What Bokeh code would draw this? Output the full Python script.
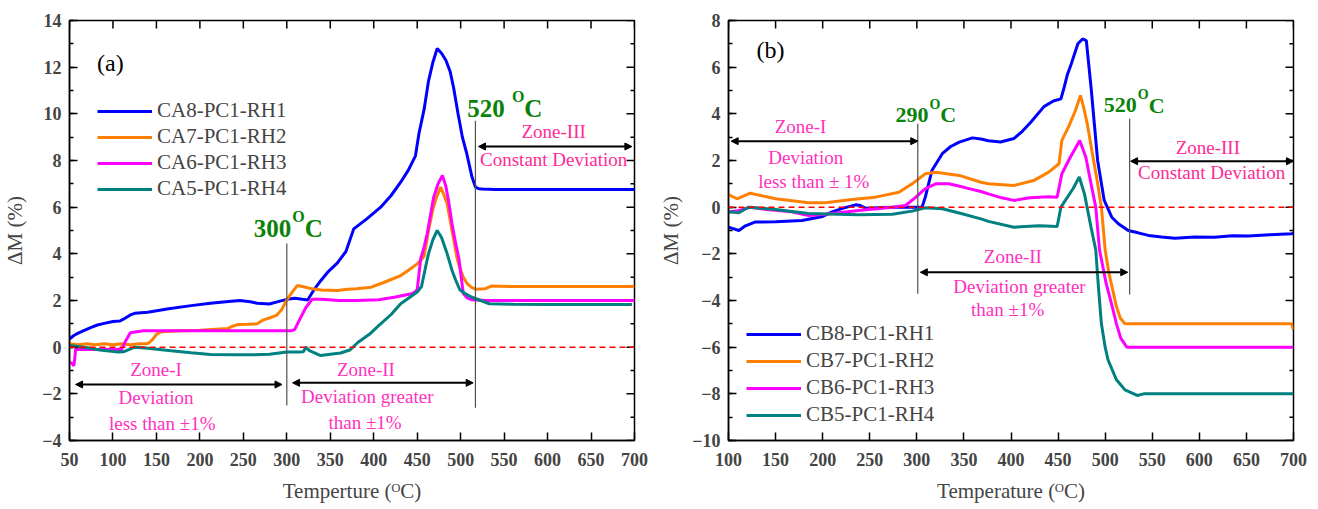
import math
from bokeh.plotting import figure
from bokeh.models import (Range1d, SingleIntervalTicker, Legend, LegendItem,
                          Span, Label, Arrow, NormalHead)
from bokeh.layouts import row
from bokeh.embed import file_html
from bokeh.resources import INLINE

SERIF = "Liberation Serif"

# ---------------- Panel (a) data ----------------
ca8_x = [50, 55, 60, 67, 75, 82, 90, 100, 108, 112, 120, 125, 140, 164, 190, 212, 230, 246, 258, 266,
         280, 290, 300, 309, 318, 324, 332, 339, 348, 358, 368, 377, 392, 408, 420, 431, 440, 448, 452,
         458, 463, 468, 473, 478, 483, 488, 492, 497, 502, 507, 513, 517, 521, 525, 540, 600, 650, 700]
ca8_y = [0.35, 0.5, 0.6, 0.72, 0.85, 0.95, 1.02, 1.1, 1.12, 1.2, 1.38, 1.45, 1.5, 1.65, 1.78, 1.88, 1.95,
         2.0, 1.95, 1.88, 1.85, 1.95, 2.05, 2.1, 2.05, 2.02, 2.5, 2.85, 3.25, 3.6, 4.1, 5.07, 5.5, 6.0,
         6.5, 7.07, 7.6, 8.2, 9.15, 10.2, 11.4, 12.2, 12.8, 12.6, 12.3, 11.8, 11.1, 10.0, 9.0, 8.3, 7.3,
         6.86, 6.79, 6.78, 6.76, 6.76, 6.76, 6.76]

ca7_x = [50, 60, 70, 80, 90, 100, 110, 120, 130, 140, 145, 150, 155, 160, 180, 200, 232, 238, 244, 255,
         266, 270, 273, 280, 288, 294, 300, 306, 312, 318, 329, 340, 358, 370, 380, 397, 410, 420, 431,
         440, 450, 455, 458, 463, 468, 472, 477, 481, 484.5, 490, 496, 499, 503, 508, 513, 518, 528, 535,
         560, 600, 650, 700]
ca7_y = [0.15, 0.1, 0.15, 0.1, 0.15, 0.1, 0.15, 0.1, 0.15, 0.15, 0.3, 0.55, 0.65, 0.67, 0.7, 0.73, 0.8,
         0.9, 0.97, 0.98, 1.0, 1.1, 1.17, 1.25, 1.36, 1.6, 2.03, 2.35, 2.64, 2.6, 2.5, 2.45, 2.43, 2.48,
         2.5, 2.57, 2.75, 2.9, 3.07, 3.3, 3.57, 3.75, 3.9, 5.0, 5.9, 6.4, 6.86, 6.5, 6.15, 5.0, 3.79, 3.4,
         3.0, 2.7, 2.55, 2.48, 2.5, 2.62, 2.6, 2.6, 2.6, 2.6]

ca6_x = [50, 53, 55, 56, 57, 70, 90, 110, 115, 120, 135, 160, 200, 250, 305, 309, 315, 322, 329, 340,
         360, 380, 406, 425, 445, 450, 454, 458, 461.5, 465, 469, 474, 479, 483, 486, 490, 494, 498, 503,
         508, 513, 530, 600, 650, 700]
ca6_y = [-0.64, -0.7, -0.8, -0.5, -0.1, -0.1, -0.1, -0.1, 0.3, 0.62, 0.7, 0.7, 0.7, 0.7, 0.7, 0.75, 1.2,
         1.7, 2.05, 2.05, 2.0, 2.0, 2.03, 2.15, 2.3, 2.45, 3.79, 4.3, 4.86, 5.6, 6.43, 7.0, 7.36, 6.9,
         6.29, 5.3, 4.5, 3.79, 2.3, 2.1, 2.03, 2.0, 2.0, 2.0, 2.0]

ca5_x = [50, 67, 85, 106, 112, 125, 140, 164, 190, 212, 240, 261, 280, 300, 315, 319, 322, 326, 339,
         350, 362, 373, 382, 395, 406, 420, 431, 442, 450, 455, 460, 463, 468, 473, 478, 484.5, 490, 494,
         499, 505, 513, 523, 533, 560, 600, 650, 697]
ca5_y = [0.07, 0.0, -0.12, -0.21, -0.2, 0.0, -0.05, -0.14, -0.24, -0.31, -0.33, -0.33, -0.3, -0.21,
         -0.21, -0.2, 0.0, -0.15, -0.36, -0.3, -0.25, -0.11, 0.21, 0.55, 0.93, 1.4, 1.86, 2.15, 2.36, 2.6,
         3.5, 4.0, 4.6, 5.0, 4.7, 4.0, 3.3, 2.9, 2.46, 2.3, 2.14, 2.0, 1.86, 1.84, 1.83, 1.83, 1.83]

# ---------------- Panel (b) data ----------------
cb8_x = [100, 105, 111, 118, 128, 150, 178, 200, 210, 221, 235, 240, 246, 274, 305.6, 309, 316, 327,
         336, 345, 359, 368, 376, 389, 403, 412, 421, 435, 445, 453, 456.5, 460, 464, 471, 476, 480, 485,
         492, 499, 507, 514, 524.5, 535, 546, 560, 574, 595, 616, 635, 652, 675, 698, 700]
cb8_y = [-0.86, -0.92, -1.0, -0.8, -0.64, -0.62, -0.57, -0.4, -0.2, -0.05, 0.1, 0.07, -0.05, 0.0, 0.0,
         0.43, 1.57, 2.29, 2.6, 2.79, 2.97, 2.92, 2.85, 2.79, 2.94, 3.25, 3.64, 4.31, 4.55, 4.64, 5.14,
         5.7, 6.14, 7.0, 7.21, 7.14, 5.14, 2.0, 0.29, -0.43, -0.71, -1.0, -1.1, -1.21, -1.28, -1.33, -1.28,
         -1.29, -1.22, -1.24, -1.18, -1.14, -1.12]

cb7_x = [100, 109, 123, 150, 185, 203, 231, 256, 281, 295, 309, 320, 345, 368, 376, 403, 424, 440, 451,
         454, 461, 468, 473.8, 477, 481, 486, 491.5, 496, 500, 504, 508, 512, 516, 521, 560, 600, 650,
         698, 700]
cb7_y = [0.54, 0.36, 0.6, 0.36, 0.19, 0.19, 0.33, 0.43, 0.64, 1.0, 1.43, 1.5, 1.36, 1.07, 1.0, 0.93, 1.14,
         1.5, 1.86, 2.86, 3.43, 4.1, 4.79, 4.3, 3.57, 2.4, 1.14, 0.0, -1.83, -2.83, -3.54, -4.26, -4.75,
         -5.0, -5.0, -5.0, -5.0, -5.0, -5.25]

cb6_x = [100, 110, 124, 140, 167, 185, 203, 238, 274, 288, 299, 309, 320, 334, 350, 368, 376, 390, 403,
         420, 440, 449, 454, 463, 473, 479.5, 485, 490, 494, 501, 507.5, 512, 516.5, 523, 560, 600, 650,
         700]
cb6_y = [-0.21, -0.15, 0.0, -0.1, -0.2, -0.36, -0.3, -0.14, 0.0, 0.07, 0.43, 0.79, 1.0, 1.0, 0.85, 0.67,
         0.57, 0.4, 0.29, 0.4, 0.45, 0.43, 1.43, 2.14, 2.86, 2.14, 1.0, 0.0, -1.83, -3.26, -4.26, -5.0,
         -5.61, -6.0, -6.0, -6.0, -6.0, -6.0]

cb5_x = [100, 111, 121, 150, 185, 238, 274, 295, 309, 327, 345, 368, 376, 403, 430, 449, 453, 460, 466,
         472.5, 478, 485, 490, 493, 496, 500, 503, 512, 521, 534, 541, 600, 650, 700]
cb5_y = [-0.2, -0.24, 0.0, -0.1, -0.27, -0.32, -0.3, -0.17, -0.03, -0.07, -0.25, -0.5, -0.61, -0.86, -0.8,
         -0.83, 0.0, 0.43, 0.8, 1.29, 0.57, -0.86, -1.83, -3.5, -5.0, -6.0, -6.54, -7.4, -7.83, -8.07,
         -8.0, -8.0, -8.0, -8.0]

labels_a = ["CA8-PC1-RH1", "CA7-PC1-RH2", "CA6-PC1-RH3", "CA5-PC1-RH4"]
labels_b = ["CB8-PC1-RH1", "CB7-PC1-RH2", "CB6-PC1-RH3", "CB5-PC1-RH4"]
colors = ["#0000FF", "#FF8000", "#FF00FF", "#008080"]

# axis ranges and tick steps
xrange_a, yrange_a = (50, 700), (-4, 14)
xrange_b, yrange_b = (100, 700), (-10, 8)
x_step, y_step = 50, 2

# annotations: vertical boundary lines (x, y0, y1)
vlines_a = [(300, -2.5, 4.44), (517, -2.6, 9.7)]
vlines_b = [(301, -3.71, 3.57), (526, -3.74, 3.79)]
# double arrows (x0, x1, y)
arrows_a = [(57, 294.5, -1.6), (306.6, 514.4, -1.53), (520.5, 697, 8.6)]
arrows_b = [(102.8, 301, 2.83), (303.7, 524, -2.79), (527, 700, 1.97)]
# texts (text, x, y, color)
PINK1 = "#FF2FC0"
PINK2 = "#FF2A95"
texts_a = [("Zone-I", 149.5, -0.96, PINK1), ("Deviation", 149.5, -2.14, PINK1),
           ("less than \u00b11%", 156.7, -3.26, PINK1),
           ("Zone-II", 391, -0.96, PINK1), ("Deviation greater", 392.6, -2.10, PINK1),
           ("than \u00b11%", 390, -3.21, PINK1),
           ("Zone-III", 607, 9.26, PINK2), ("Constant Deviation", 607, 8.05, PINK2)]
texts_b = [("Zone-I", 176.5, 3.46, PINK1), ("Deviation", 182, 2.14, PINK1),
           ("less than \u00b1 1%", 190.6, 1.11, PINK1),
           ("Zone-II", 402, -2.11, PINK1), ("Deviation greater", 409, -3.4, PINK1),
           ("than \u00b11%", 396.5, -4.4, PINK1),
           ("Zone-III", 609, 2.54, PINK2), ("Constant Deviation", 613, 1.47, PINK2)]
GREEN = "#0A820A"
# temperature marks: (number, gap before superscript, x of left edge, baseline y)
temps_a = [("300", "", 262.0, 4.79), ("520", " ", 507.5, 9.93)]
temps_b = [("290", "", 277.3, 3.67), ("520", "", 498.5, 4.07)]
panel_a = ("(a)", 97, 12.16)
panel_b = ("(b)", 144.6, 6.72)


def make_fig(xr, yr, xlab, ylab, bl, br, ylab_standoff):
    p = figure(frame_width=565, frame_height=420, x_range=Range1d(*xr), y_range=Range1d(*yr),
               output_backend="svg", toolbar_location=None, min_border_left=bl, min_border_right=br,
               min_border_top=20, min_border_bottom=67, x_axis_label=xlab, y_axis_label=ylab)
    p.grid.visible = False
    p.outline_line_color = "black"
    p.outline_line_width = 1.5
    p.xaxis.ticker = SingleIntervalTicker(interval=x_step, num_minor_ticks=0)
    p.yaxis.ticker = SingleIntervalTicker(interval=y_step, num_minor_ticks=2)
    for ax in p.axis:
        ax.axis_line_width = 1.5
        ax.major_tick_in = 8
        ax.major_tick_out = 0
        ax.minor_tick_in = 4
        ax.minor_tick_out = 0
        ax.major_tick_line_width = 1.5
        ax.minor_tick_line_width = 1.5
        ax.major_label_text_font = SERIF
        ax.major_label_text_font_style = "bold"
        ax.major_label_text_font_size = "18px"
        ax.axis_label_text_font = SERIF
        ax.axis_label_text_font_style = "normal"
        ax.axis_label_text_font_size = "21px"
    p.xaxis[0].major_label_standoff = 12
    p.xaxis[0].axis_label_standoff = 10
    p.yaxis[0].major_label_standoff = 8
    p.yaxis[0].axis_label_standoff = ylab_standoff
    # mirrored inward ticks on the top and right edges of the frame
    xt = list(range(xr[0], xr[1] + 1, x_step))
    p.ray(x=xt, y=[yr[1]] * len(xt), length=8, angle=-math.pi / 2, length_units="screen",
          line_color="black", line_width=1.5)
    yt = list(range(yr[0], yr[1] + 1))
    p.ray(x=[xr[1]] * len(yt), y=yt, length=[8 if v % y_step == 0 else 4 for v in yt],
          angle=math.pi, length_units="screen", line_color="black", line_width=1.5)
    p.add_layout(Span(location=0, dimension="width", line_color="#FF0000", line_dash="6 4",
                      line_width=1.5))
    return p


def decorate(p, series, labels, loc, spacing, vlines, arrows, texts, temps, tsize, panel):
    rs = []
    for (xs, ys), c in zip(series, colors):
        rs.append(p.line(xs, ys, line_color=c, line_width=3))
    items = [LegendItem(label=l, renderers=[r]) for l, r in zip(labels, rs)]
    leg = Legend(items=items, location=loc, background_fill_alpha=0, border_line_alpha=0,
                 padding=0, margin=0, spacing=spacing, glyph_width=55, glyph_height=22,
                 label_height=22, label_standoff=5, label_text_font=SERIF,
                 label_text_font_size="21px")
    p.add_layout(leg)
    for x, y0, y1 in vlines:
        p.segment(x0=[x], y0=[y0], x1=[x], y1=[y1], line_color="#505050", line_width=1.2)
    for x0, x1, y in arrows:
        p.add_layout(Arrow(start=NormalHead(size=7, fill_color="black", line_color="black"),
                           end=NormalHead(size=7, fill_color="black", line_color="black"),
                           x_start=x0, y_start=y, x_end=x1, y_end=y, line_width=2,
                           line_color="black"))
    for t, x, y, c in texts:
        p.add_layout(Label(x=x, y=y, text=t, text_align="center", text_baseline="middle",
                           text_font=SERIF, text_font_size="19px", text_color=c))
    big, small = tsize
    for num, gap, x, y in temps:
        w_num = 0.5 * big * len(num) + 0.25 * big * len(gap)
        w_o = 0.778 * small
        common = dict(x=x, y=y, text_align="left", text_baseline="alphabetic", text_font=SERIF,
                      text_font_style="bold", text_color=GREEN)
        p.add_layout(Label(text=num, text_font_size=f"{big}px", y_offset=7, **common))
        p.add_layout(Label(text="O", text_font_size=f"{small}px", x_offset=w_num + 1,
                           y_offset=7 + 0.47 * big, **common))
        p.add_layout(Label(text="C", text_font_size=f"{big}px", x_offset=w_num + w_o + 1,
                           y_offset=7, **common))
    t, x, y = panel
    p.add_layout(Label(x=x, y=y, text=t, text_align="center", text_baseline="middle",
                       text_font=SERIF, text_font_size="24px", text_color="black"))


p1 = make_fig(xrange_a, yrange_a, "Temperture (\u1d3cC)", "\u0394M (%)", 61, 22, 12)
decorate(p1, [(ca8_x, ca8_y), (ca7_x, ca7_y), (ca6_x, ca6_y), (ca5_x, ca5_y)], labels_a,
         (28, 239), 1, vlines_a, arrows_a, texts_a, temps_a, (25, 16), panel_a)

p2 = make_fig(xrange_b, yrange_b, "Temperature (\u1d3cC)", "\u0394M (%)", 62, 15, 6)
decorate(p2, [(cb8_x, cb8_y), (cb7_x, cb7_y), (cb6_x, cb6_y), (cb5_x, cb5_y)], labels_b,
         (18, 13), 2, vlines_b, arrows_b, texts_b, temps_b, (22, 14), panel_b)

layout = row(p1, p2)
open("out.html", "w").write(file_html(layout, INLINE))
